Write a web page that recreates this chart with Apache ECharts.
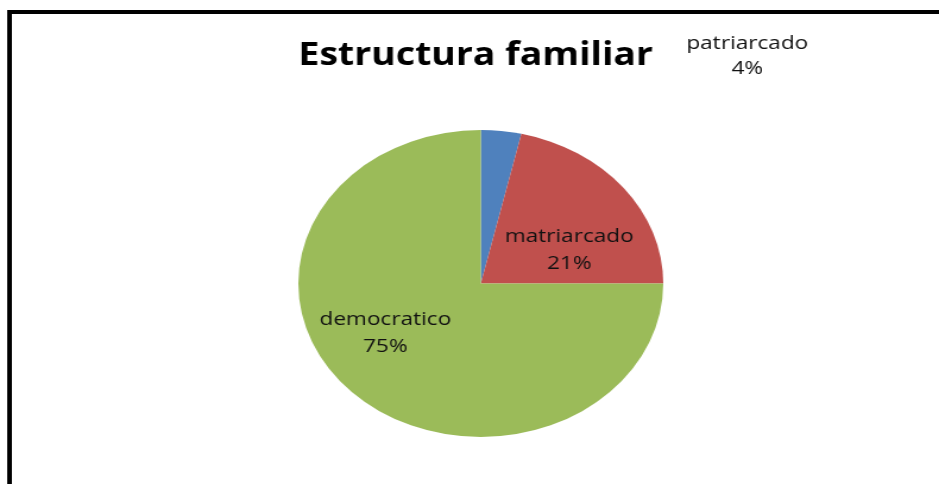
<!DOCTYPE html>
<html>
<head>
<meta charset="utf-8">
<script src="https://cdn.jsdelivr.net/npm/echarts@6/dist/echarts.min.js"></script>
<style>
  html, body { margin: 0; padding: 0; background: #fff; overflow: hidden; width: 939px; height: 484px; }
  #chart { width: 790px; height: 484px; transform-origin: 0 0; transform: scaleX(1.1886); }
</style>
</head>
<body>
<div id="chart"></div>
<script>
// Data
const chartTitle = 'Estructura familiar';
const categories = ['patriarcado', 'matriarcado', 'democratico'];
const values = [1, 6, 21];
const colors = ['#4F81BD', '#C0504D', '#9BBB59'];

// label anchor points (layout, in chart coordinates)
const labelAnchors = [[628.7, 56], [478.9, 250.5], [324.2, 333]];
const labelLineHeights = [25, 27, 27];

const chart = echarts.init(document.getElementById('chart'), null, { renderer: 'canvas' });

const pieData = categories.map((name, i) => ({
  name: name,
  value: values[i],
  itemStyle: { color: colors[i] },
  label: { lineHeight: labelLineHeights[i] }
}));

chart.setOption({
  backgroundColor: '#ffffff',
  animation: false,
  title: {
    text: chartTitle,
    left: 251,
    top: 40,
    padding: 0,
    textStyle: { fontFamily: 'Open Sans', fontWeight: 'bold', fontSize: 31.5, color: '#000' }
  },
  graphic: [{
    type: 'rect',
    shape: { x: 8, y: 12, width: 900, height: 600 },
    style: { fill: null, stroke: '#000', lineWidth: 4 },
    silent: true
  }],
  series: [{
    type: 'pie',
    center: [404.5, 283.5],
    radius: 153.5,
    startAngle: 90,
    clockwise: true,
    percentPrecision: 0,
    silent: true,
    itemStyle: { borderWidth: 0 },
    label: {
      show: true,
      position: 'inside',
      formatter: '{b}\n{d}%',
      fontFamily: 'Open Sans',
      fontSize: 19,
      color: '#111',
      align: 'center',
      verticalAlign: 'middle'
    },
    labelLine: { show: false },
    labelLayout: function (params) {
      const p = labelAnchors[params.dataIndex];
      return { x: p[0], y: p[1], align: 'center', verticalAlign: 'middle' };
    },
    data: pieData
  }]
});
</script>
</body>
</html>
